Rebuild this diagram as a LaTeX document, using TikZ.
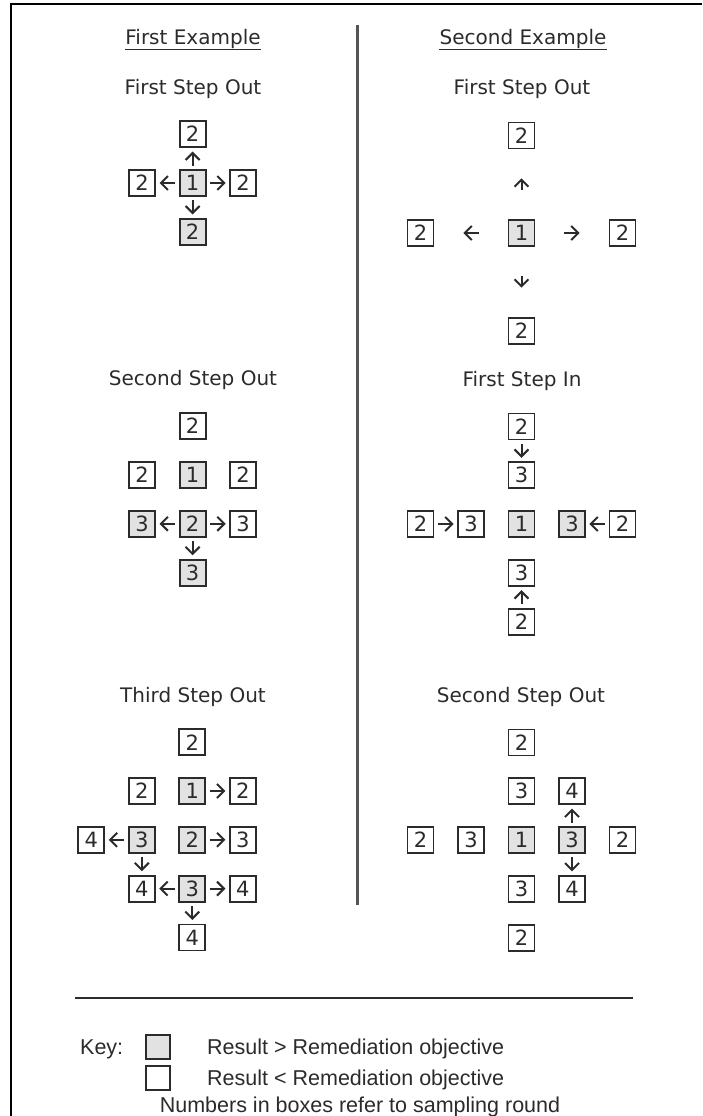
\documentclass[tikz,border=0pt]{standalone}
\usepackage{fontspec}
\setmainfont{DejaVu Sans}
\newfontfamily\keyfont{Liberation Sans}
\usetikzlibrary{arrows.meta}

\definecolor{ink}{HTML}{2B2B2B}
\definecolor{hitgray}{HTML}{E2E2E2}

\tikzset{
  cell/.style={draw=ink, line width=1.8pt, minimum size=26pt, inner sep=0pt,
    text=ink, font=\fontsize{21}{21}\selectfont},
  hit/.style={cell, fill=hitgray},
  walk/.style={draw=ink, line width=2pt,
    -{Straight Barb[length=7pt,width=14pt,line width=2pt]},
    shorten >=3.5pt, shorten <=3.5pt},
  far/.style={walk, shorten >=29pt, shorten <=29pt},
  head/.style={text=ink, anchor=base, inner sep=0pt, font=\fontsize{20}{20}\selectfont},
  keytext/.style={text=ink, anchor=base west, inner sep=0pt, font=\keyfont\fontsize{21.5}{21.5}\selectfont},
  grid/.style={x=50.5pt, y=-48.8pt}
}

\begin{document}
\begin{tikzpicture}[x=1pt, y=-1pt]
  \useasboundingbox (0,0) rectangle (702,1116);

  % frame and divider
  \draw[line width=2.5pt] (11,1116) -- (11,4) -- (702,4);
  \draw[line width=3pt, color=ink!80] (357,25) -- (357,905);

  % column headings
  \node[head] (exA) at (193,45) {First Example};
  \node[head] (exB) at (523,45) {Second Example};
  \draw[ink, line width=1pt] ([yshift=-5pt]exA.base west) -- ([yshift=-5pt]exA.base east);
  \draw[ink, line width=1pt] ([yshift=-5pt]exB.base west) -- ([yshift=-5pt]exB.base east);

  % step titles
  \node[head] (tA1) at (193,94) {First Step Out};
  \node[head] (tB1) at (522,94) {First Step Out};
  \node[head] (tA2) at (193,385) {Second Step Out};
  \node[head] (tB2) at (522,386) {First Step In};
  \node[head] (tA3) at (193,702) {Third Step Out};
  \node[head] (tB3) at (521,702) {Second Step Out};

  % First example, first step out
  \begin{scope}[shift={(192.6,183)}, grid]
    \node[cell] (A1n) at (0,-1) {2};
    \node[hit]  (A1c) at (0,0) {1};
    \node[cell] (A1w) at (-1,0) {2};
    \node[cell] (A1e) at (1,0) {2};
    \node[hit]  (A1s) at (0,1) {2};
    \foreach \d in {n,w,e,s}
      \draw[walk] (A1c) -- (A1\d);
  \end{scope}

  % Second example, first step out
  \begin{scope}[shift={(521.5,233)}, grid]
    \node[cell] (B1n) at (0,-2) {2};
    \node[hit]  (B1c) at (0,0) {1};
    \node[cell] (B1w) at (-2,0) {2};
    \node[cell] (B1e) at (2,0) {2};
    \node[cell] (B1s) at (0,2) {2};
    \foreach \d in {n,w,e,s}
      \draw[far] (B1c) -- (B1\d);
  \end{scope}

  % First example, second step out
  \begin{scope}[shift={(192.6,475)}, grid]
    \node[cell] (A2n) at (0,-1) {2};
    \node[cell] (A2w) at (-1,0) {2};
    \node[hit]  (A2c) at (0,0) {1};
    \node[cell] (A2e) at (1,0) {2};
    \node[hit]  (A2sw) at (-1,1) {3};
    \node[hit]  (A2s) at (0,1) {2};
    \node[cell] (A2se) at (1,1) {3};
    \node[hit]  (A2ss) at (0,2) {3};
    \draw[walk] (A2s) -- (A2sw);
    \draw[walk] (A2s) -- (A2se);
    \draw[walk] (A2s) -- (A2ss);
  \end{scope}

  % Second example, first step in
  \begin{scope}[shift={(521.5,524)}, grid]
    \node[cell] (B2nn) at (0,-2) {2};
    \node[cell] (B2n) at (0,-1) {3};
    \node[cell] (B2ww) at (-2,0) {2};
    \node[cell] (B2w) at (-1,0) {3};
    \node[hit]  (B2c) at (0,0) {1};
    \node[hit]  (B2e) at (1,0) {3};
    \node[cell] (B2ee) at (2,0) {2};
    \node[cell] (B2s) at (0,1) {3};
    \node[cell] (B2ss) at (0,2) {2};
    \draw[walk] (B2nn) -- (B2n);
    \draw[walk] (B2ww) -- (B2w);
    \draw[walk] (B2ee) -- (B2e);
    \draw[walk] (B2ss) -- (B2s);
  \end{scope}

  % First example, third step out
  \begin{scope}[shift={(192.3,791)}, grid]
    \node[cell] (A3n) at (0,-1) {2};
    \node[cell] (A3w) at (-1,0) {2};
    \node[hit]  (A3c) at (0,0) {1};
    \node[cell] (A3e) at (1,0) {2};
    \node[cell] (A3a) at (-2,1) {4};
    \node[hit]  (A3b) at (-1,1) {3};
    \node[hit]  (A3d) at (0,1) {2};
    \node[cell] (A3f) at (1,1) {3};
    \node[cell] (A3g) at (-1,2) {4};
    \node[hit]  (A3h) at (0,2) {3};
    \node[cell] (A3k) at (1,2) {4};
    \node[cell] (A3m) at (0,3) {4};
    \draw[walk] (A3c) -- (A3e);
    \draw[walk] (A3b) -- (A3a);
    \draw[walk] (A3d) -- (A3f);
    \draw[walk] (A3b) -- (A3g);
    \draw[walk] (A3h) -- (A3g);
    \draw[walk] (A3h) -- (A3k);
    \draw[walk] (A3h) -- (A3m);
  \end{scope}

  % Second example, second step out
  \begin{scope}[shift={(521.5,840)}, grid]
    \node[cell] (B3nn) at (0,-2) {2};
    \node[cell] (B3n) at (0,-1) {3};
    \node[cell] (B3ne) at (1,-1) {4};
    \node[cell] (B3ww) at (-2,0) {2};
    \node[cell] (B3w) at (-1,0) {3};
    \node[hit]  (B3c) at (0,0) {1};
    \node[hit]  (B3e) at (1,0) {3};
    \node[cell] (B3ee) at (2,0) {2};
    \node[cell] (B3s) at (0,1) {3};
    \node[cell] (B3se) at (1,1) {4};
    \node[cell] (B3ss) at (0,2) {2};
    \draw[walk] (B3e) -- (B3ne);
    \draw[walk] (B3e) -- (B3se);
  \end{scope}

  % key
  \draw[ink, line width=1.4pt] (75,998) -- (633,998);
  \node[keytext] (keyword) at (80,1054) {Key:};
  \node[hit, minimum size=24pt] (keyhit) at (158,1047) {};
  \node[cell, minimum size=24pt] (keymiss) at (158,1078) {};
  \node[keytext] (keyhitlbl) at (207,1054) {Result > Remediation objective};
  \node[keytext] (keymisslbl) at (207,1085) {Result < Remediation objective};
  \node[keytext, anchor=base] (keynote) at (360,1112) {Numbers in boxes refer to sampling round};
\end{tikzpicture}
\end{document}
